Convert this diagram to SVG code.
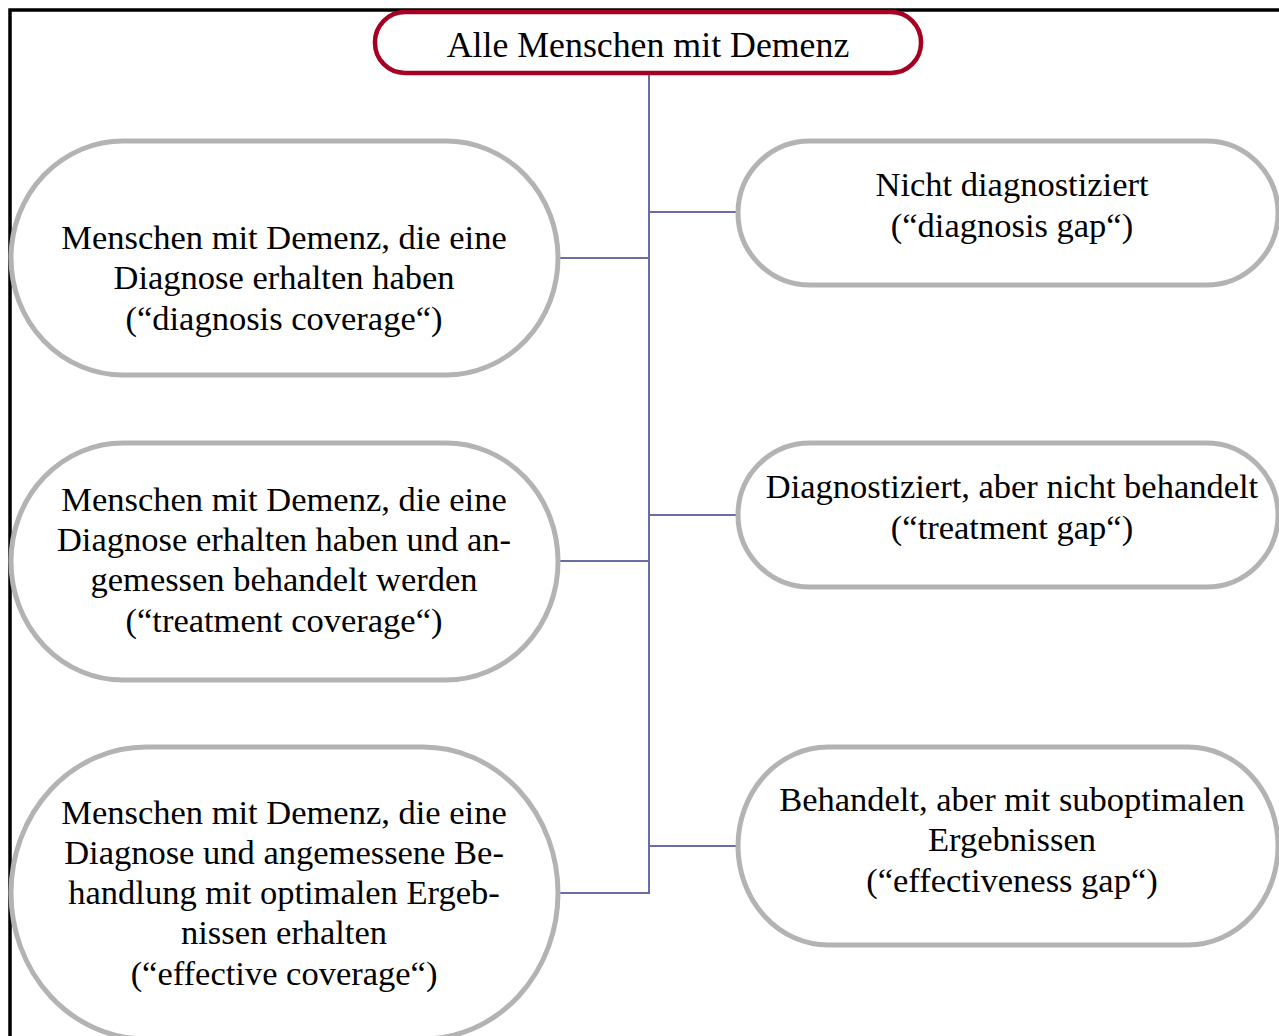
<svg xmlns="http://www.w3.org/2000/svg" width="1279" height="1036" viewBox="0 0 1279 1036">
<style>
.frame{fill:none;stroke:#000;stroke-width:3.5}
.root{fill:#fff;stroke:#A50021;stroke-width:4.5}
.box{fill:#fff;stroke:#B3B3B3;stroke-width:5}
.conn{fill:none;stroke:#6B6BA6;stroke-width:2}
text{font-family:"Liberation Serif","Times New Roman",serif;font-size:34.5px;fill:#000;text-anchor:middle}
</style>
<rect x="0" y="0" width="1279" height="1036" fill="#fff"/>
<rect class="frame" x="10" y="10" width="1290" height="1050"/>
<g id="connectors">
<line class="conn" x1="649" y1="73" x2="649" y2="894"/>
<line class="conn" x1="649" y1="212" x2="738" y2="212"/>
<line class="conn" x1="558" y1="258" x2="649" y2="258"/>
<line class="conn" x1="649" y1="515" x2="738" y2="515"/>
<line class="conn" x1="558" y1="561" x2="649" y2="561"/>
<line class="conn" x1="649" y1="846" x2="738" y2="846"/>
<line class="conn" x1="558" y1="893" x2="649" y2="893"/>
</g>
<g id="root">
<rect class="root" x="375" y="12" width="546" height="61" rx="30" ry="30"/>
<text x="648" y="57" style="font-size:35.8px">Alle Menschen mit Demenz</text>
</g>
<g id="left1">
<rect class="box" x="11" y="141" width="547" height="234" rx="112" ry="117"/>
<text x="284" y="249">Menschen mit Demenz, die eine</text>
<text x="284" y="289">Diagnose erhalten haben</text>
<text x="284" y="330">(“diagnosis coverage“)</text>
</g>
<g id="left2">
<rect class="box" x="11" y="443" width="547" height="237" rx="112" ry="118"/>
<text x="284" y="511">Menschen mit Demenz, die eine</text>
<text x="284" y="551">Diagnose erhalten haben und an-</text>
<text x="284" y="591">gemessen behandelt werden</text>
<text x="284" y="632">(“treatment coverage“)</text>
</g>
<g id="left3">
<rect class="box" x="11" y="747" width="547" height="292" rx="135" ry="146"/>
<text x="284" y="824">Menschen mit Demenz, die eine</text>
<text x="284" y="864">Diagnose und angemessene Be-</text>
<text x="284" y="904">handlung mit optimalen Ergeb-</text>
<text x="284" y="944">nissen erhalten</text>
<text x="284" y="985">(“effective coverage“)</text>
</g>
<g id="right1">
<rect class="box" x="738" y="141" width="540" height="144" rx="72" ry="72"/>
<text x="1012" y="196">Nicht diagnostiziert</text>
<text x="1012" y="237">(“diagnosis gap“)</text>
</g>
<g id="right2">
<rect class="box" x="738" y="443" width="540" height="144" rx="72" ry="72"/>
<text x="1012" y="498">Diagnostiziert, aber nicht behandelt</text>
<text x="1012" y="539">(“treatment gap“)</text>
</g>
<g id="right3">
<rect class="box" x="738" y="747" width="540" height="198" rx="90" ry="99"/>
<text x="1012" y="811">Behandelt, aber mit suboptimalen</text>
<text x="1012" y="851">Ergebnissen</text>
<text x="1012" y="892">(“effectiveness gap“)</text>
</g>
</svg>
